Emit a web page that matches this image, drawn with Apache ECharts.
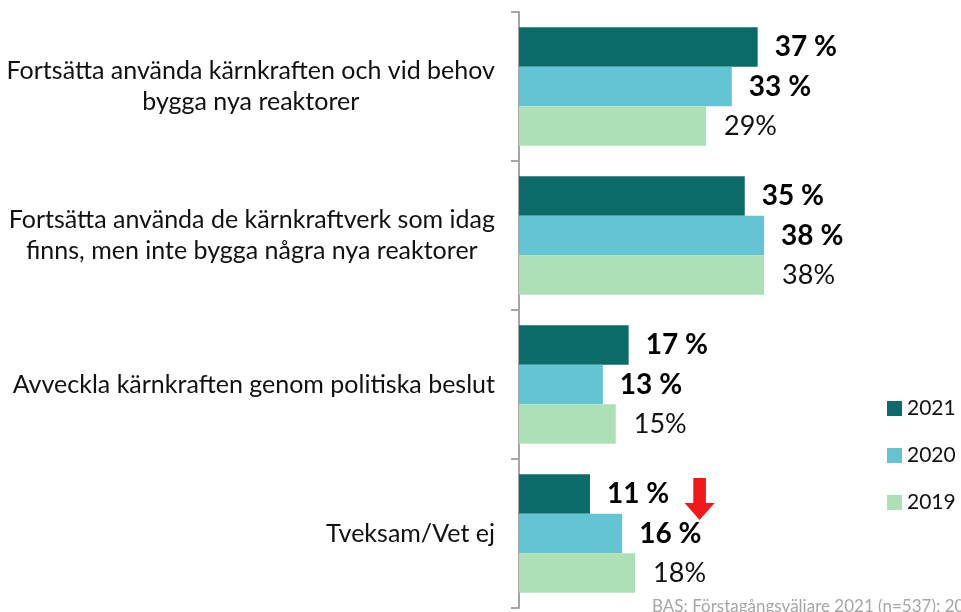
<!DOCTYPE html>
<html>
<head>
<meta charset="utf-8">
<script src="https://cdn.jsdelivr.net/npm/echarts@6/dist/echarts.min.js"></script>
<style>
html,body{margin:0;padding:0;background:#fff;}
#chart{width:961px;height:612px;}
</style>
</head>
<body>
<div id="chart"></div>
<script>
const categories = [
  'Fortsätta använda kärnkraften och vid behov\nbygga nya reaktorer',
  'Fortsätta använda de kärnkraftverk som idag\nfinns, men inte bygga några nya reaktorer',
  'Avveckla kärnkraften genom politiska beslut',
  'Tveksam/Vet ej'
];
const seriesNames = ['2021', '2020', '2019'];
const values2021 = [37, 35, 17, 11];
const values2020 = [33, 38, 13, 16];
const values2019 = [29, 38, 15, 18];
const arrowAt = [28, 'Tveksam/Vet ej'];
const sourceNote = 'BAS: Förstagångsväljare 2021 (n=537); 2020 (n=511); 2019 (n=501)';

const FONT = 'Lato';
const colors = ['#0b6b69', '#63c5d3', '#ade0b6'];

const chart = echarts.init(document.getElementById('chart'), null, {renderer: 'canvas'});

function boldLabel() {
  return {
    show: true, position: 'right', distance: 17,
    formatter: p => p.value + ' %',
    fontFamily: FONT, fontSize: 28, fontWeight: 'bold', color: '#000'
  };
}

chart.setOption({
  animation: false,
  color: colors,
  grid: {left: 519, right: 55, top: 12, bottom: 4, containLabel: false},
  xAxis: {type: 'value', min: 0, max: 60, show: false},
  yAxis: {
    type: 'category', inverse: true, data: categories,
    axisLine: {show: true, lineStyle: {color: '#a6a6a6', width: 2}},
    axisTick: {show: true, length: 8, lineStyle: {color: '#a6a6a6', width: 2}},
    axisLabel: {
      margin: 24, align: 'right', color: '#111',
      fontFamily: FONT, fontSize: 25, lineHeight: 31,
      formatter: v => v.split('\n').map(l => '{c|' + l + '}').join('\n'),
      rich: {c: {align: 'center', fontFamily: FONT, fontSize: 25, lineHeight: 31, color: '#111'}}
    }
  },
  legend: {
    orient: 'vertical', left: 882, top: 393,
    itemWidth: 15, itemHeight: 15, itemGap: 26, icon: 'rect',
    textStyle: {fontFamily: FONT, fontSize: 21, color: '#111'},
    data: seriesNames
  },
  series: [
    {
      name: seriesNames[0], type: 'bar', data: values2021,
      barGap: '0%', barCategoryGap: '20.5%',
      label: boldLabel(),
      markPoint: {
        symbol: 'path://M9,0 L22,0 L22,25 L31,25 L15.5,42 L0,25 L9,25 Z',
        symbolSize: [30, 42], symbolKeepAspect: false,
        symbolOffset: [0, 5],
        itemStyle: {color: '#f01818'},
        label: {show: false},
        data: [{coord: arrowAt}]
      }
    },
    {
      name: seriesNames[1], type: 'bar', data: values2020,
      barGap: '0%', barCategoryGap: '20.5%',
      label: boldLabel()
    },
    {
      name: seriesNames[2], type: 'bar', data: values2019,
      barGap: '0%', barCategoryGap: '20.5%',
      label: {
        show: true, position: 'right', distance: 18,
        formatter: p => p.value + '%',
        fontFamily: FONT, fontSize: 27, color: '#111'
      }
    }
  ],
  graphic: [{
    type: 'text', left: 652, top: 598,
    style: {text: sourceNote, fontFamily: FONT, fontSize: 17, fill: '#a6a6a6'}
  }]
});
</script>
</body>
</html>
